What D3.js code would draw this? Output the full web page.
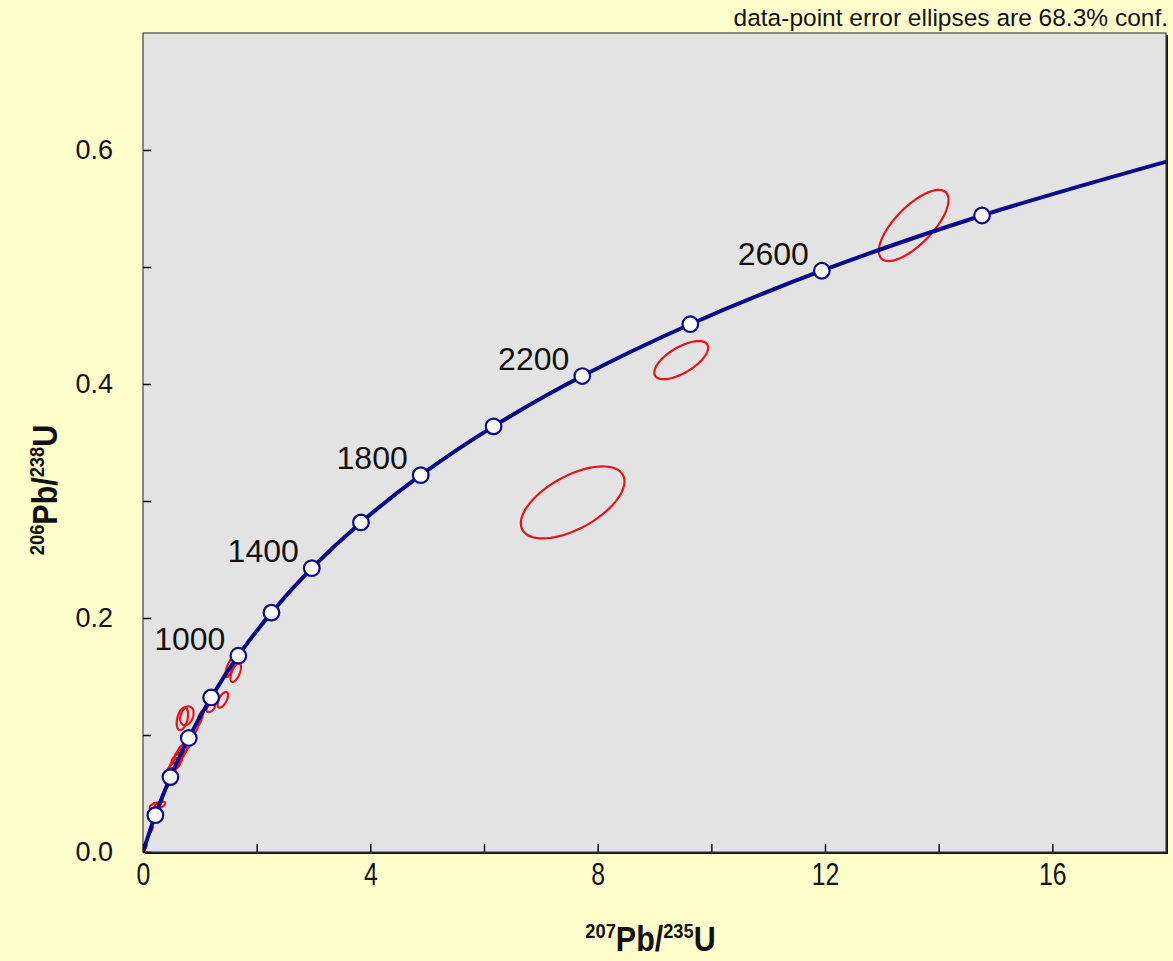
<!DOCTYPE html>
<html>
<head>
<meta charset="utf-8">
<script src="https://cdn.jsdelivr.net/npm/d3@7"></script>
<style>
    body { margin: 0; background: #FFFFCC; }
    svg { display: block; }
</style>
</head>
<body>
<div id="chart"></div>
<script>
// concordia ages (Ma) and ratios
const ages = [0, 200, 400, 600, 800, 1000, 1200, 1400, 1600, 1800, 2000, 2200, 2400, 2600, 2800, 3000];
const pb207u235 = [0, 0.2177, 0.4828, 0.8057, 1.1988, 1.6774, 2.2603, 2.9702, 3.8348, 4.8870, 6.1687, 7.7293, 9.6298, 11.944, 14.763, 18.194];
const pb206u238 = [0, 0.0315, 0.0640, 0.0975, 0.1321, 0.1678, 0.2046, 0.2426, 0.2817, 0.3221, 0.3638, 0.4068, 0.4511, 0.4968, 0.5440, 0.5926];
const labelAges = [1000, 1400, 1800, 2200, 2600];

// error ellipses: centre, half-ranges and error correlation
const ellX   = [7.56, 9.47, 13.56, 1.526, 1.632, 1.404, 1.193, 0.693, 0.772, 1.000, 0.912, 0.719, 0.667, 0.614, 0.579, 0.544, 0.211, 0.298, 0.140, 0.026];
const ellY   = [0.2988, 0.4204, 0.5355, 0.1575, 0.1533, 0.1301, 0.1233, 0.1139, 0.1164, 0.1139, 0.1045, 0.0890, 0.0848, 0.0805, 0.0762, 0.0728, 0.0394, 0.0402, 0.0188, 0.0034];
const ellSX  = [0.912, 0.474, 0.614, 0.075, 0.092, 0.092, 0.075, 0.100, 0.118, 0.058, 0.058, 0.110, 0.110, 0.110, 0.110, 0.110, 0.092, 0.092, 0.030, 0.038];
const ellSY  = [0.0308, 0.0163, 0.0304, 0.0080, 0.0080, 0.0067, 0.0037, 0.0097, 0.0080, 0.0067, 0.0046, 0.0046, 0.0046, 0.0046, 0.0046, 0.0046, 0.0029, 0.0029, 0.0029, 0.0029];
const ellRho = [0.58, 0.65, 0.72, 0.7, 0.6, 0.6, 0.5, 0.4, 0.3, 0.8, 0.8, 0.7, 0.7, 0.7, 0.7, 0.7, 0.5, 0.5, 0.8, 0.8];

const xTicks = [0, 2, 4, 6, 8, 10, 12, 14, 16, 18];
const yTicks = [0, 0.1, 0.2, 0.3, 0.4, 0.5, 0.6, 0.7];

const W = 1173, H = 961;
const margin = { top: 33, right: 7, bottom: 109, left: 143 };
const width = W - margin.left - margin.right;
const height = H - margin.top - margin.bottom;

const svg = d3.select("#chart")
    .append("svg")
    .attr("width", W)
    .attr("height", H);

svg.append("rect").attr("width", W).attr("height", H).attr("fill", "#FFFFCC");

const g = svg.append("g")
    .attr("transform", `translate(${margin.left},${margin.top})`);

const x = d3.scaleLinear().domain([0, 18]).range([0, width]);
const y = d3.scaleLinear().domain([0, 0.7]).range([height, 0]);

// plot frame with a drop shadow
g.append("rect")
    .attr("x", 2).attr("y", 2)
    .attr("width", width).attr("height", height)
    .attr("fill", "#111");
g.append("rect")
    .attr("width", width).attr("height", height)
    .attr("fill", "#E3E3E3")
    .attr("stroke", "#444")
    .attr("stroke-width", 1.2);

svg.append("defs").append("clipPath").attr("id", "clip")
    .append("rect").attr("width", width).attr("height", height);

const plot = g.append("g").attr("clip-path", "url(#clip)");

// axes
const yAxis = g.append("g")
    .call(d3.axisLeft(y)
        .tickValues(yTicks.slice(0, 7))
        .tickSize(-8)
        .tickPadding(30)
        .tickFormat(d => Math.round(d * 10) % 2 === 0 ? d3.format(".1f")(d) : ""));
yAxis.select(".domain").remove();
yAxis.selectAll("line").attr("stroke", "#111").attr("stroke-width", 1.5);
yAxis.selectAll("text")
    .attr("font-family", "Liberation Sans, Arial, sans-serif")
    .attr("font-size", 27)
    .attr("fill", "#111");

const xAxis = g.append("g")
    .attr("transform", `translate(0,${height})`)
    .call(d3.axisBottom(x)
        .tickValues(xTicks.slice(0, 9))
        .tickSize(-8)
        .tickPadding(11)
        .tickFormat(d => d % 4 === 0 ? d : ""));
xAxis.select(".domain").remove();
xAxis.selectAll("line").attr("stroke", "#111").attr("stroke-width", 1.5);
// narrow look: squeeze the labels horizontally
xAxis.selectAll("text")
    .attr("font-family", "Liberation Sans, Arial, sans-serif")
    .attr("font-size", 31)
    .attr("fill", "#111")
    .attr("transform", "scale(0.8,1)");

// ellipses
const ellipses = ellX.map((cx, i) => ({ cx, cy: ellY[i], sx: ellSX[i], sy: ellSY[i], rho: ellRho[i] }));
const ellLine = d3.line().x(p => x(p[0])).y(p => y(p[1])).curve(d3.curveLinearClosed);
const steps = d3.range(0, 72);

plot.selectAll(".ellipse")
    .data(ellipses)
    .enter()
    .append("path")
    .attr("class", "ellipse")
    .attr("fill", "none")
    .attr("stroke", "#E8141A")
    .attr("stroke-width", 2.2)
    .attr("d", e => ellLine(steps.map(k => {
        const t = k / 72 * 2 * Math.PI;
        return [e.cx + e.sx * Math.cos(t),
                e.cy + e.sy * (e.rho * Math.cos(t) + Math.sqrt(1 - e.rho * e.rho) * Math.sin(t))];
    })));

// concordia curve
const concordia = ages.map((a, i) => ({ age: a, x: pb207u235[i], y: pb206u238[i] }));
const line = d3.line()
    .x(d => x(d.x))
    .y(d => y(d.y))
    .curve(d3.curveCatmullRom.alpha(0.5));

plot.append("path")
    .datum(concordia)
    .attr("fill", "none")
    .attr("stroke", "#0A0A8C")
    .attr("stroke-width", 4)
    .attr("d", line);

const markers = concordia.filter(d => d.age > 0 && d.x <= 18);
plot.selectAll(".age-mark")
    .data(markers)
    .enter()
    .append("circle")
    .attr("class", "age-mark")
    .attr("cx", d => x(d.x))
    .attr("cy", d => y(d.y))
    .attr("r", 7.8)
    .attr("fill", "white")
    .attr("stroke", "#0A0A8C")
    .attr("stroke-width", 2.2);

g.selectAll(".age-label")
    .data(concordia.filter(d => labelAges.includes(d.age)))
    .enter()
    .append("text")
    .attr("class", "age-label")
    .attr("x", d => x(d.x) - 13)
    .attr("y", d => y(d.y) - 6)
    .attr("text-anchor", "end")
    .attr("font-family", "Liberation Sans, Arial, sans-serif")
    .attr("font-size", 32)
    .attr("fill", "#111")
    .text(d => d.age);

// axis titles (bold, squeezed to look like a narrow face)
function ratioTitle(sel, top, bottom) {
    sel.attr("text-anchor", "middle")
        .attr("font-family", "Liberation Sans, Arial, sans-serif")
        .attr("font-weight", "bold")
        .attr("font-size", 35)
        .attr("fill", "#111");
    sel.append("tspan").attr("font-size", 21).attr("dy", -13).text(top);
    sel.append("tspan").attr("dy", 13).text("Pb/");
    sel.append("tspan").attr("font-size", 21).attr("dy", -13).text(bottom);
    sel.append("tspan").attr("dy", 13).text("U");
}

svg.append("g")
    .attr("transform", `translate(${margin.left + width / 2 - 4},951) scale(0.87,1)`)
    .append("text")
    .call(ratioTitle, "207", "235");

svg.append("g")
    .attr("transform", `translate(57,490) rotate(-90) scale(0.87,1)`)
    .append("text")
    .call(ratioTitle, "206", "238");

svg.append("text")
    .attr("x", 1168)
    .attr("y", 26)
    .attr("text-anchor", "end")
    .attr("font-family", "Liberation Sans, Arial, sans-serif")
    .attr("font-size", 24.5)
    .attr("fill", "#111")
    .text("data-point error ellipses are 68.3% conf.");
</script>
</body>
</html>
